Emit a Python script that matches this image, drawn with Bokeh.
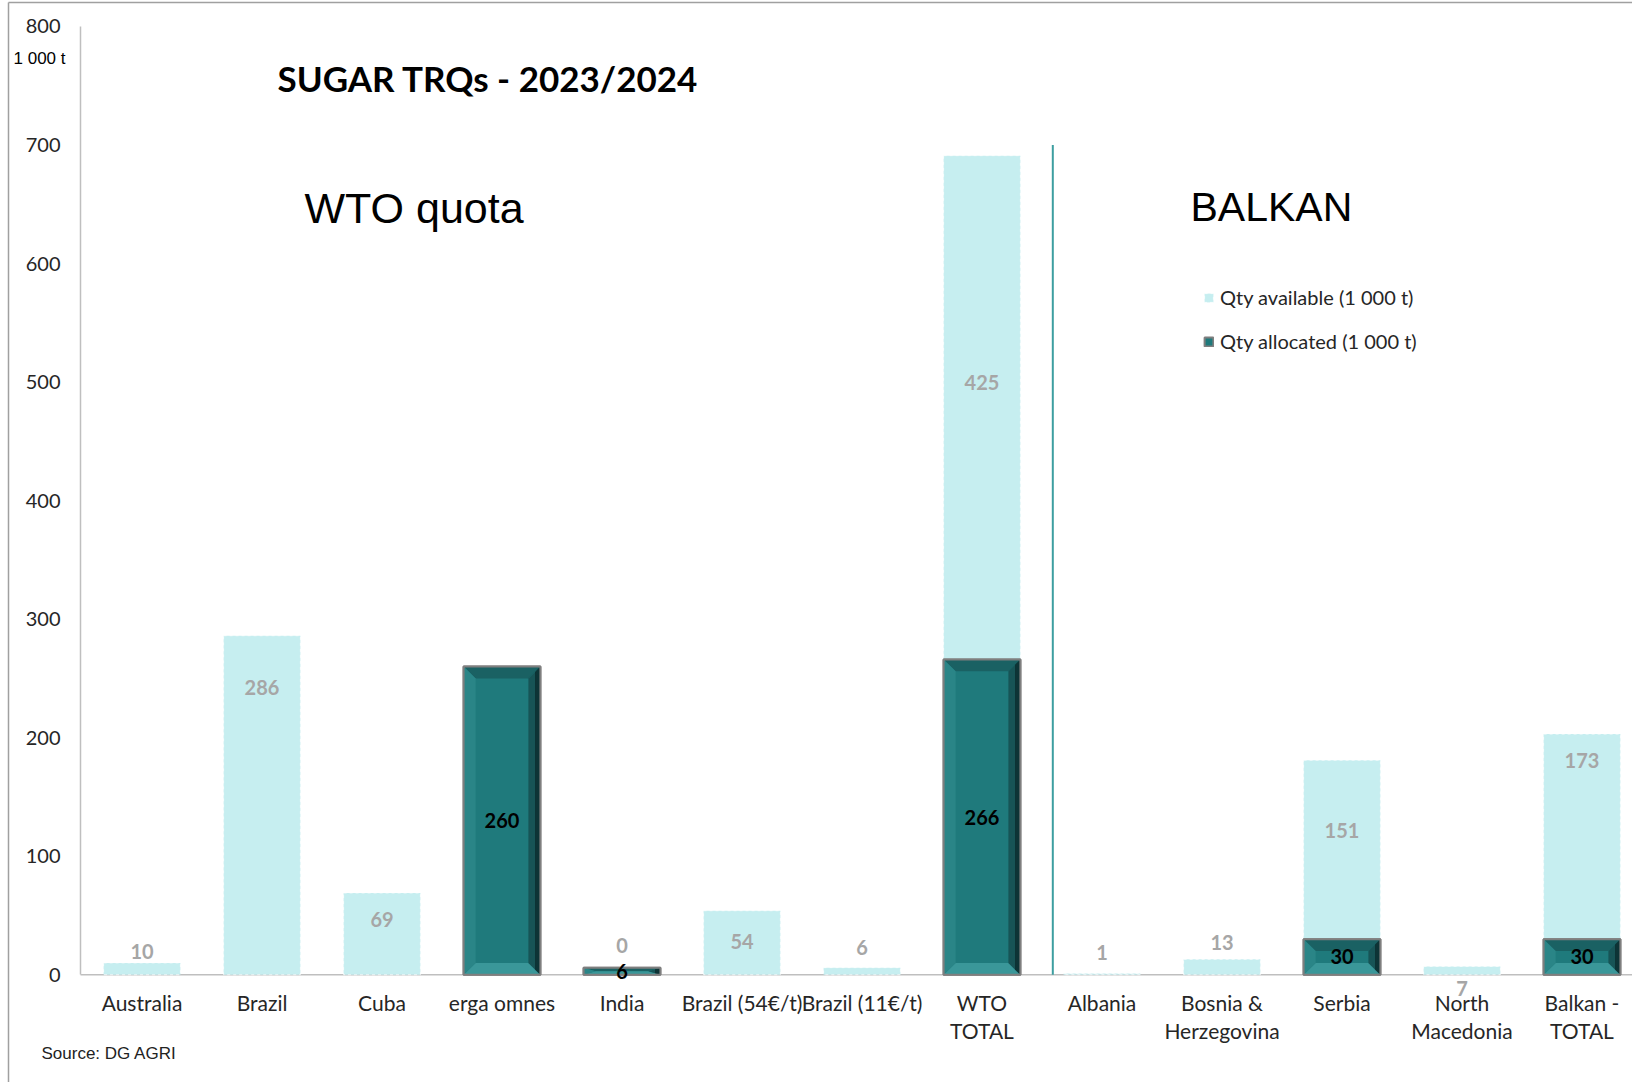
from bokeh.plotting import figure
from bokeh.models import (Range1d, ColumnDataSource, FixedTicker, Span, Label, Legend,
                          LegendItem, LinearAxis)
from bokeh.core.properties import value
from bokeh.embed import file_html
from bokeh.resources import INLINE

# ---------------- data ----------------
categories = ["Australia", "Brazil", "Cuba", "erga omnes", "India", "Brazil (54€/t)",
              "Brazil (11€/t)", "WTO TOTAL", "Albania", "Bosnia & Herzegovina",
              "Serbia", "North Macedonia", "Balkan - TOTAL"]
label_line1 = ["Australia", "Brazil", "Cuba", "erga omnes", "India", "Brazil (54€/t)",
               "Brazil (11€/t)", "WTO", "Albania", "Bosnia &", "Serbia", "North", "Balkan -"]
label_line2 = ["", "", "", "", "", "", "", "TOTAL", "", "Herzegovina", "", "Macedonia", "TOTAL"]
qty_allocated = [0, 0, 0, 260, 6, 0, 0, 266, 0, 0, 30, 0, 30]
qty_available = [10, 286, 69, None, 0, 54, 6, 425, 1, 13, 151, 7, 173]
# where the grey "available" value labels sit (in 1 000 t)
avail_label_y = [20, 242, 47, None, 25, 28, 23, 500, 19, 27, 122, -12, 181]
y_ticks = [0, 100, 200, 300, 400, 500, 600, 700, 800]
divider_x = 7.59
divider_top = 700

# ---------------- derived ----------------
n = len(categories)
xs = list(range(n))
avail = [0 if v is None else v for v in qty_available]
tops = [a + v for a, v in zip(qty_allocated, avail)]

BAR_W = 0.64
LIGHT = "#c6eef0"
TEAL = "#1f7a7c"
W, H = 1632, 1082
X0, X1 = -1.1792, 12.4208
Y0, Y1 = -90.9, 821.9
AXIS_X = -0.5125

p = figure(width=W, height=H,
           x_range=Range1d(X0, X1), y_range=Range1d(Y0, Y1),
           output_backend="svg", toolbar_location=None,
           x_axis_type=None, y_axis_type=None, min_border=0)
p.outline_line_color = None
p.grid.visible = False
p.background_fill_color = "white"
p.border_fill_color = "white"

# y axis drawn at a fixed location inside the frame
yax = LinearAxis(fixed_location=AXIS_X, ticker=FixedTicker(ticks=y_ticks))
yax.bounds = (0, 800)
yax.axis_line_color = "#bfbfbf"
yax.axis_line_width = 1.5
yax.major_tick_line_color = None
yax.minor_tick_line_color = None
yax.major_tick_out = 0
yax.major_tick_in = 0
yax.major_label_standoff = 20
yax.major_label_text_font = "Lato"
yax.major_label_text_font_size = "20px"
yax.major_label_text_color = "#262626"
p.add_layout(yax, "left")

# outer frame lines (left & top) of the picture
p.segment(x0=[X0 + 8 / 120.0, X0 + 8 / 120.0], y0=[Y0, Y1 - 2 / 1.1853],
          x1=[X0 + 8 / 120.0, X1], y1=[Y1 - 2 / 1.1853, Y1 - 2 / 1.1853],
          line_color="#a0a0a0", line_width=1.5)

# zero line
p.segment(x0=[AXIS_X], y0=[0], x1=[X1], y1=[0], line_color="#bfbfbf", line_width=1.5)

src = ColumnDataSource(dict(x=xs, alloc=qty_allocated, top=tops))
al_idx = [i for i, a in enumerate(qty_allocated) if a > 0]
src_al = ColumnDataSource(dict(x=[xs[i] for i in al_idx],
                               alloc=[qty_allocated[i] for i in al_idx]))

# available (stacked on top of allocated)
avail_r = p.vbar(x="x", bottom="alloc", top="top", width=BAR_W, source=src,
                 fill_color=LIGHT, line_color="#ffffff", line_alpha=0.7,
                 line_dash="3 3", line_width=1)

# allocated base
alloc_r = p.vbar(x="x", bottom=0, top="alloc", width=BAR_W, source=src_al,
                 fill_color=TEAL, line_color="#7f7f7f", line_width=2)

# bevel faces for allocated bars
DX = 0.1
DY_MAX = 10.0
face_xs, face_ys, face_cols = [], [], []
hw = BAR_W / 2
for i in al_idx:
    c, h = xs[i], qty_allocated[i]
    b, t = 0.0, float(h)
    dy = min(DY_MAX, h / 2.0)
    l, r = c - hw, c + hw
    il, ir = l + DX, r - DX
    ib, it = b + dy, t - dy
    face_xs.append([l, r, ir, il]); face_ys.append([t, t, it, it]); face_cols.append("#1a6163")
    face_xs.append([l, r, ir, il]); face_ys.append([b, b, ib, ib]); face_cols.append("#3a9799")
    face_xs.append([l, l, il, il]); face_ys.append([b, t, it, ib]); face_cols.append("#2a8587")
    face_xs.append([r, r, ir, ir]); face_ys.append([b, t, it, ib]); face_cols.append("#175456")
    mid = r - DX * 0.45
    face_xs.append([r, r, mid, mid])
    face_ys.append([b, t, t - dy * 0.45, b + dy * 0.45]); face_cols.append("#0d3436")
p.patches(xs=face_xs, ys=face_ys, fill_color=face_cols, line_color=None)
p.vbar(x="x", bottom=0, top="alloc", width=BAR_W, source=src_al,
       fill_color=None, line_color="#7f7f7f", line_width=2)

# divider between WTO and Balkan groups
p.segment(x0=[divider_x], y0=[0], x1=[divider_x], y1=[divider_top],
          line_color="#3d9ea0", line_width=2)

# value labels
av_x = [x for x, v in zip(xs, qty_available) if v is not None]
av_y = [y for y, v in zip(avail_label_y, qty_available) if v is not None]
av_t = [str(v) for v in qty_available if v is not None]
p.text(x=av_x, y=av_y, text=av_t, text_font=value("Lato"), text_font_style="bold",
       text_font_size="20px", text_color="#a6a6a6", text_align="center",
       text_baseline="middle")

p.text(x=[xs[i] for i in al_idx], y=[qty_allocated[i] / 2 for i in al_idx],
       text=[str(qty_allocated[i]) for i in al_idx], text_font=value("Lato"),
       text_font_style="bold", text_font_size="20px", text_color="#000000",
       text_align="center", text_baseline="middle")

# category labels (two lines) below zero
p.text(x=xs, y=[0] * n, text=label_line1, y_offset=28, text_font=value("Lato"),
       text_font_size="21px", text_color="#262626", text_align="center",
       text_baseline="middle")
p.text(x=xs, y=[0] * n, text=label_line2, y_offset=56, text_font=value("Lato"),
       text_font_size="21px", text_color="#262626", text_align="center",
       text_baseline="middle")

# legend
legend = Legend(items=[LegendItem(label="Qty available (1 000 t)", renderers=[avail_r]),
                       LegendItem(label="Qty allocated (1 000 t)", renderers=[alloc_r])],
                location=(1203, 729), orientation="vertical",
                glyph_width=11, glyph_height=11, label_height=20, spacing=20,
                padding=0, margin=0, label_standoff=6,
                label_text_font="Lato", label_text_font_size="20px",
                label_text_color="#262626",
                border_line_color=None, background_fill_alpha=0)
p.add_layout(legend)

# texts
p.add_layout(Label(x=277, y=1005, x_units="screen", y_units="screen",
                   text="SUGAR TRQs - 2023/2024", text_font="Lato",
                   text_font_style="bold", text_font_size="35px",
                   text_baseline="middle", text_color="#000000"))
p.add_layout(Label(x=304, y=875, x_units="screen", y_units="screen",
                   text="WTO  quota", text_font="Liberation Sans",
                   text_font_size="43px", text_baseline="middle", text_color="#000000"))
p.add_layout(Label(x=1190, y=876, x_units="screen", y_units="screen",
                   text="BALKAN", text_font="Liberation Sans",
                   text_font_size="41px", text_baseline="middle", text_color="#000000"))
p.add_layout(Label(x=13, y=1024, x_units="screen", y_units="screen",
                   text="1 000 t", text_font="Liberation Sans",
                   text_font_size="17px", text_baseline="middle", text_color="#000000"))
p.add_layout(Label(x=41, y=29, x_units="screen", y_units="screen",
                   text="Source: DG AGRI", text_font="Liberation Sans",
                   text_font_size="17px", text_baseline="middle", text_color="#222222"))

open("out.html", "w").write(file_html(p, INLINE))
